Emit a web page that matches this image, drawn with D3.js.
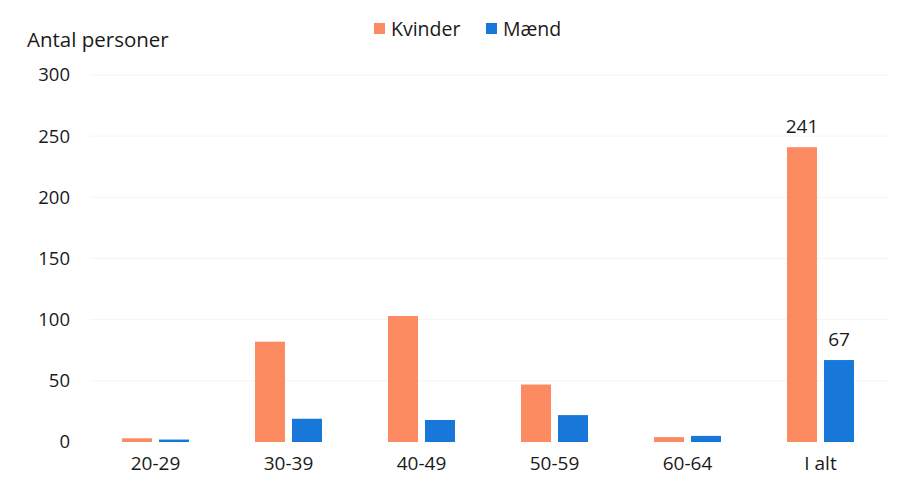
<!DOCTYPE html>
<html><head><meta charset="utf-8">
<script src="https://cdn.jsdelivr.net/npm/d3@7"></script>
<style>body{margin:0;background:#fff}svg{display:block}text{font-family:"Open Sans","Noto Sans",sans-serif;fill:#1a1a1a}</style>
</head><body>
<svg id="c" width="898" height="482"></svg>
<script>
const categories = ["20-29","30-39","40-49","50-59","60-64","I alt"];
const seriesNames = ["Kvinder","Mænd"];
const kvinder = [3, 82, 103, 47, 4, 241];
const maend = [2, 19, 18, 22, 5, 67];
const yTicks = [0, 50, 100, 150, 200, 250, 300];
const labelIndex = 5; // only "I alt" carries value labels
const colors = ["#fd8b62", "#1878d9"];

const svg = d3.select("#c");
const x = d3.scaleBand().domain(categories).range([89, 887]);
const y = d3.scaleLinear().domain([0, 300]).range([442, 75]);
const bw = 30, gap = 7;
const FONT = '"Open Sans","Noto Sans",sans-serif';

// gridlines
svg.append("g").selectAll("line").data(yTicks.slice(1)).join("line")
  .attr("x1", 90).attr("x2", 888)
  .attr("y1", d => y(d)).attr("y2", d => y(d))
  .attr("stroke", "#f4f4f4").attr("stroke-width", 1);

// y axis labels
const yAxis = d3.axisLeft(y).tickValues(yTicks).tickSize(0).tickPadding(0);
const ya = svg.append("g").attr("transform", "translate(70,0)").call(yAxis);
ya.select(".domain").remove();
ya.selectAll("text").attr("font-size", 18.5).attr("font-family", FONT).attr("fill", "#1a1a1a");

// x axis labels
const xAxis = d3.axisBottom(x).tickSize(0).tickPadding(0);
const xa = svg.append("g").attr("transform", "translate(0,456)").call(xAxis);
xa.select(".domain").remove();
xa.selectAll("text").attr("font-size", 19).attr("font-family", FONT).attr("fill", "#1a1a1a");

const series = [kvinder, maend];
series.forEach((vals, s) => {
  const off = s === 0 ? -(bw + gap / 2) : gap / 2;
  svg.append("g").selectAll("rect").data(vals).join("rect")
    .attr("x", (d, i) => x(categories[i]) + x.bandwidth() / 2 + off)
    .attr("y", d => y(d))
    .attr("width", bw)
    .attr("height", d => y(0) - y(d))
    .attr("fill", colors[s]);
  svg.append("text")
    .attr("x", x(categories[labelIndex]) + x.bandwidth() / 2 + off + bw / 2)
    .attr("y", y(vals[labelIndex]) - 14)
    .attr("text-anchor", "middle").attr("font-size", 19)
    .text(vals[labelIndex]);
});

// y title
svg.append("text").attr("x", 27).attr("y", 47).attr("font-size", 20.5).text("Antal personer");

// legend
const lg = svg.append("g");
const legendX = [374, 486];
seriesNames.forEach((n, i) => {
  lg.append("rect").attr("x", legendX[i]).attr("y", 23).attr("width", 11).attr("height", 11).attr("fill", colors[i]);
  lg.append("text").attr("x", legendX[i] + 17).attr("y", 36).attr("font-size", 19.5).text(n);
});
</script>
</body></html>
